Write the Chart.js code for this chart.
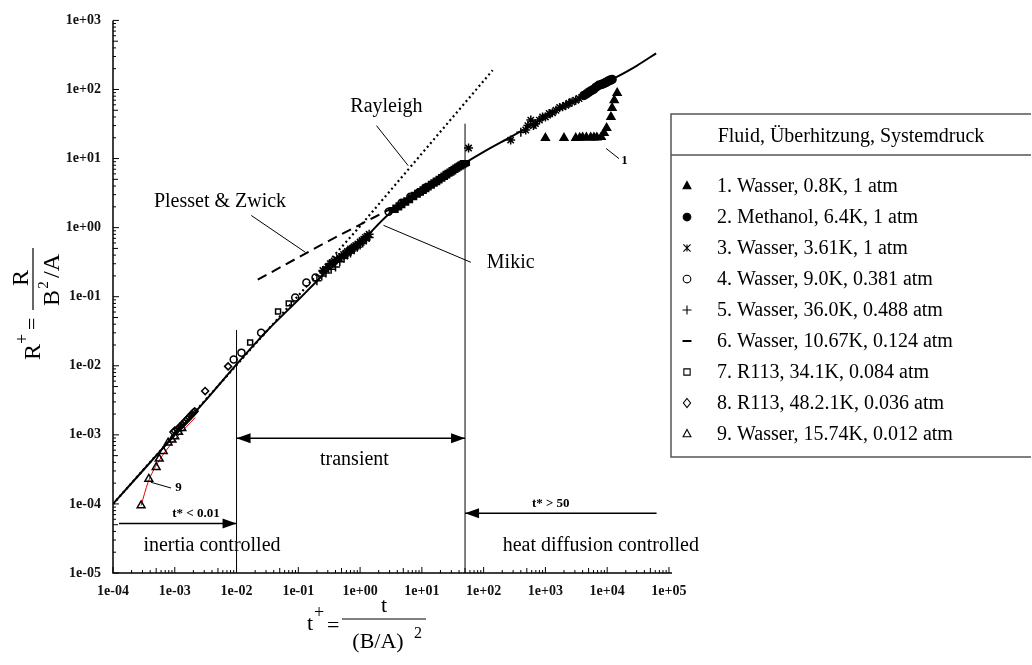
<!DOCTYPE html>
<html>
<head>
<meta charset="utf-8">
<script src="https://cdn.jsdelivr.net/npm/chart.js@4.4.1/dist/chart.umd.min.js"></script>
<style>html,body{margin:0;padding:0;background:#fff}</style>
</head>
<body>
<canvas id="myChart" width="1032" height="665"></canvas>
<script>
// axes
const xTicks = [1e-4, 1e-3, 1e-2, 1e-1, 1e0, 1e1, 1e2, 1e3, 1e4, 1e5];
const yTicks = [1e-5, 1e-4, 1e-3, 1e-2, 1e-1, 1e0, 1e1, 1e2, 1e3];

// curves
const mikicT = [1e-4, 3e-4, 1e-3, 3e-3, 1e-2, 3e-2, 0.1, 0.3, 1, 3, 10, 30, 100, 300, 1e3, 3e3, 1e4, 3e4, 6.2e4];
const mikicR = [1e-4, 3e-4, 1e-3, 3e-3, 1.05e-2, 3.1e-2, 9e-2, 0.24, 0.6, 1.6, 3.3, 6.5, 12.5, 21.5, 40, 69, 127, 220, 334];
const rayleighT = [1e-4, 1, 140];
const rayleighR = [1e-4, 1.05, 190];
const plessetT = [0.022, 0.3, 4];
const plessetR = [0.176, 0.63, 2.1];
const fit9T = [2.85e-4, 3.7e-4, 5.36e-4, 1.01e-3, 2.14e-3];
const fit9R = [9.5e-5, 2.06e-4, 4.0e-4, 8.6e-4, 1.78e-3];
const limitT = [0.01, 50];
const limitTop = [0.033, 32];

// measurements
const s1T = [1000, 2000, 3100, 3600, 4000, 4600, 5400, 6100, 6800, 8000, 8900, 9800, 11500, 12000, 13000, 14500];
const s1R = [19.8, 19.8, 19.8, 20, 20.2, 20.2, 20.2, 20.2, 20.2, 20.5, 23.5, 27.6, 40, 54, 70, 89];
const s2T = [4200, 4600, 5000, 5500, 6000, 6600, 7300, 8000, 8500, 9000, 9500, 10100, 10700, 11300, 12000];
const s2R = [82, 86, 91, 96, 100, 108, 115, 118, 120, 123, 126, 130, 134, 137, 140];
const s3T = [0.25, 0.28, 0.3, 0.33, 0.35, 0.38, 0.42, 0.46, 0.5, 0.54, 0.58, 0.62, 0.66, 0.7, 0.75, 0.8, 0.85, 0.92, 1.0, 1.07, 1.15, 1.22, 1.3, 1.4,
  57, 274, 480, 520, 580, 640, 690, 800, 900, 1000, 1150, 1300, 1480, 1700, 1900, 2140, 2400, 2700, 3100, 3500];
const s3R = [0.24, 0.25, 0.27, 0.3, 0.3, 0.33, 0.34, 0.37, 0.38, 0.41, 0.42, 0.45, 0.46, 0.49, 0.5, 0.53, 0.55, 0.58, 0.62, 0.65, 0.68, 0.72, 0.75, 0.8,
  14.2, 18.5, 25.9, 30, 36, 30, 32, 36, 40, 40, 45, 46, 50, 55, 56, 59, 63, 66, 70, 74];
const s4T = [0.009, 0.012, 0.025, 0.089, 0.135, 0.19, 2.9, 4.7, 6.5, 8.8, 11.5];
const s4R = [0.0123, 0.0155, 0.03, 0.097, 0.16, 0.19, 1.7, 2.3, 2.8, 3.2, 3.8];
const s5T = [0.2, 0.24, 0.28, 0.34, 0.4, 0.47, 0.55, 0.62, 0.7, 0.8, 0.9, 1.0, 1.1, 1.25, 1.4, 400, 650, 1200, 2500];
const s5R = [0.17, 0.2, 0.22, 0.25, 0.27, 0.32, 0.36, 0.4, 0.43, 0.48, 0.52, 0.56, 0.6, 0.66, 0.72, 24, 31, 44, 64];
const s6T = [3.5, 4, 4.5, 5.2, 6, 7, 8, 9, 10, 11, 12, 13.5, 15, 16.5, 18, 20, 22, 24, 26, 28, 30, 32.5, 35, 37.5, 40, 42.5, 45, 47.5, 50];
const s6R = [1.8, 1.95, 2.1, 2.3, 2.5, 2.75, 3.0, 3.2, 3.4, 3.6, 3.8, 4.05, 4.3, 4.55, 4.8, 5.1, 5.4, 5.7, 6.0, 6.25, 6.5, 6.8, 7.1, 7.4, 7.7, 7.95, 8.2, 8.4, 8.6];
const s7T = [0.0166, 0.047, 0.07];
const s7R = [0.0217, 0.061, 0.08];
const s8T = [0.00095, 0.001, 0.0011, 0.0012, 0.0013, 0.0014, 0.0015, 0.0016, 0.0017, 0.0018, 0.0019, 0.002, 0.0021, 0.0031, 0.0073];
const s8R = [0.0011, 0.00115, 0.0012, 0.0013, 0.0014, 0.0015, 0.0016, 0.0017, 0.0018, 0.0019, 0.002, 0.0021, 0.0022, 0.0043, 0.0098];
const s9T = [2.85e-4, 3.8e-4, 5.0e-4, 5.6e-4, 6.5e-4, 7.8e-4, 9e-4, 1.0e-3, 1.15e-3, 1.3e-3];
const s9R = [9.5e-5, 2.3e-4, 3.4e-4, 4.5e-4, 5.8e-4, 7.7e-4, 8.5e-4, 9.5e-4, 1.1e-3, 1.25e-3];

const legendTitle = 'Fluid, Überhitzung, Systemdruck';
const legendLabels = [
  '1. Wasser, 0.8K, 1 atm',
  '2. Methanol, 6.4K, 1 atm',
  '3. Wasser, 3.61K, 1 atm',
  '4. Wasser, 9.0K, 0.381 atm',
  '5. Wasser, 36.0K, 0.488 atm',
  '6. Wasser, 10.67K, 0.124 atm',
  '7. R113, 34.1K, 0.084 atm',
  '8. R113, 48.2.1K, 0.036 atm',
  '9. Wasser, 15.74K, 0.012 atm'
];
const legendStyles = ['triangle', 'circle', 'star', 'circle', 'cross', 'line', 'rect', 'rectRot', 'triangle'];
const legendFilled = [true, true, false, false, false, false, false, false, false];

// annotations in data coordinates
const noteText = ['Rayleigh', 'Plesset & Zwick', 'Mikic', 'transient', 'inertia controlled', 'heat diffusion controlled'];
const noteT = [2.67, 5.4e-3, 274, 0.81, 4.0e-3, 7900];
const noteR = [57, 2.4, 0.315, 4.4e-4, 2.5e-5, 2.5e-5];
const smallText = ['t* < 0.01', 't* > 50', '1', '9'];
const smallT = [2.2e-3, 1220, 1.9e4, 1.15e-3];
const smallR = [7.3e-5, 1.0e-4, 9.4, 1.74e-4];
const leaderFrom = [[1.84, 30], [0.0173, 1.5], [2.39, 1.08], [9.6e3, 14], [4.1e-4, 2.06e-4]];
const leaderTo = [[6.0, 7.9], [0.13, 0.44], [62, 0.315], [1.55e4, 10], [8.7e-4, 1.7e-4]];
// arrows: [t1, t2, R, head at start, head at end]
const arrows = [[0.01, 50, 8.9e-4, true, true], [1.25e-4, 0.01, 5.2e-5, false, true], [6.3e4, 50, 7.3e-5, false, true]];

const pts = (xs, ys) => xs.map((x, i) => ({x: x, y: ys[i]}));
const fmt = v => {
  const e = Math.round(Math.log10(v));
  return '1e' + (e < 0 ? '-' : '+') + String(Math.abs(e)).padStart(2, '0');
};
const SERIF = '"Liberation Serif", "Times New Roman", serif';

function curve(data, opts) {
  return Object.assign({data: data, showLine: true, pointRadius: 0, borderColor: '#000',
    borderWidth: 2, fill: false, cubicInterpolationMode: 'monotone', order: 5}, opts);
}
function marks(data, style, filled, opts) {
  return Object.assign({data: data, showLine: false, pointStyle: style, pointRadius: 3.5,
    borderColor: '#000', backgroundColor: filled ? '#000' : 'rgba(0,0,0,0)', pointBorderWidth: 1.5, order: 1}, opts);
}

function drawMarker(ctx, style, x, y, r, filled) {
  ctx.save();
  ctx.strokeStyle = '#000'; ctx.fillStyle = '#000'; ctx.lineWidth = 1.1;
  ctx.beginPath();
  if (style === 'triangle') {
    ctx.moveTo(x, y - r); ctx.lineTo(x + r * 0.87, y + r * 0.6); ctx.lineTo(x - r * 0.87, y + r * 0.6); ctx.closePath();
  } else if (style === 'circle') {
    ctx.arc(x, y, r * 0.85, 0, Math.PI * 2);
  } else if (style === 'rect') {
    ctx.rect(x - r * 0.7, y - r * 0.7, r * 1.4, r * 1.4);
  } else if (style === 'rectRot') {
    ctx.moveTo(x, y - r); ctx.lineTo(x + r * 0.8, y); ctx.lineTo(x, y + r); ctx.lineTo(x - r * 0.8, y); ctx.closePath();
  } else if (style === 'cross') {
    ctx.moveTo(x - r, y); ctx.lineTo(x + r, y); ctx.moveTo(x, y - r); ctx.lineTo(x, y + r);
  } else if (style === 'line') {
    ctx.lineWidth = 2; ctx.moveTo(x - r, y); ctx.lineTo(x + r, y);
  } else if (style === 'star') {
    ctx.moveTo(x - r * 0.8, y - r * 0.8); ctx.lineTo(x + r * 0.8, y + r * 0.8);
    ctx.moveTo(x + r * 0.8, y - r * 0.8); ctx.lineTo(x - r * 0.8, y + r * 0.8);
    ctx.moveTo(x, y - r * 0.8); ctx.lineTo(x, y + r * 0.8);
  }
  if (filled) ctx.fill();
  ctx.stroke();
  ctx.restore();
}

function arrowHead(ctx, x, y, dir) {
  ctx.beginPath();
  ctx.moveTo(x, y);
  ctx.lineTo(x - dir * 14, y - 5);
  ctx.lineTo(x - dir * 14, y + 5);
  ctx.closePath();
  ctx.fill();
}

const decorations = {
  id: 'decorations',
  afterDraw(chart) {
    const ctx = chart.ctx, xs = chart.scales.x, ys = chart.scales.y, a = chart.chartArea;
    const px = v => xs.getPixelForValue(v), py = v => ys.getPixelForValue(v);
    ctx.save();
    ctx.strokeStyle = '#000'; ctx.fillStyle = '#000';

    // axes with inward log ticks
    ctx.lineWidth = 1.5;
    ctx.beginPath();
    ctx.moveTo(a.left, a.top); ctx.lineTo(a.left, a.bottom); ctx.lineTo(a.right, a.bottom);
    ctx.stroke();
    ctx.lineWidth = 1;
    ctx.beginPath();
    for (let e = -4; e <= 5; e++) {
      for (let k = 1; k <= 9; k++) {
        const v = k * Math.pow(10, e);
        if (v < xs.min || v > xs.max) continue;
        const p = px(v), len = k === 1 ? 6 : (k === 5 ? 5 : 3);
        ctx.moveTo(p, a.bottom); ctx.lineTo(p, a.bottom - len);
      }
    }
    for (let e = -5; e <= 3; e++) {
      for (let k = 1; k <= 9; k++) {
        const v = k * Math.pow(10, e);
        if (v < ys.min || v > ys.max * 1.0001) continue;
        const p = py(v), len = k === 1 ? 6 : (k === 5 ? 5 : 3);
        ctx.moveTo(a.left, p); ctx.lineTo(a.left + len, p);
      }
    }
    ctx.stroke();

    // regime arrows
    ctx.lineWidth = 1.5;
    arrows.forEach(([t1, t2, r, hs, he]) => {
      const x1 = px(t1), x2 = px(t2), y = py(r);
      ctx.beginPath(); ctx.moveTo(x1, y); ctx.lineTo(x2, y); ctx.stroke();
      const dir = Math.sign(x2 - x1);
      if (he) arrowHead(ctx, x2, y, dir);
      if (hs) arrowHead(ctx, x1, y, -dir);
    });

    // leader lines
    ctx.lineWidth = 1;
    leaderFrom.forEach((f, i) => {
      const t = leaderTo[i];
      ctx.beginPath(); ctx.moveTo(px(f[0]), py(f[1])); ctx.lineTo(px(t[0]), py(t[1])); ctx.stroke();
    });

    // text labels
    ctx.textAlign = 'center'; ctx.textBaseline = 'middle';
    ctx.font = '20px ' + SERIF;
    noteText.forEach((s, i) => ctx.fillText(s, px(noteT[i]), py(noteR[i])));
    ctx.font = 'bold 13px ' + SERIF;
    smallText.forEach((s, i) => ctx.fillText(s, px(smallT[i]), py(smallR[i])));

    // x axis title: t+ = t / (B/A)^2
    ctx.textAlign = 'left'; ctx.textBaseline = 'alphabetic';
    ctx.font = '22px ' + SERIF;
    ctx.fillText('t', 307, 630);
    ctx.font = '18px ' + SERIF; ctx.fillText('+', 314, 618);
    ctx.font = '22px ' + SERIF; ctx.fillText('=', 327, 632);
    ctx.lineWidth = 1.2;
    ctx.beginPath(); ctx.moveTo(342, 619); ctx.lineTo(426, 619); ctx.stroke();
    ctx.textAlign = 'center';
    ctx.fillText('t', 384, 612);
    ctx.fillText('(B/A)', 378, 648);
    ctx.font = '16px ' + SERIF; ctx.fillText('2', 418, 638);

    // y axis title, rotated
    ctx.save();
    ctx.translate(40, 360);
    ctx.rotate(-Math.PI / 2);
    ctx.textAlign = 'left';
    ctx.font = '24px ' + SERIF; ctx.fillText('R', 0, 0);
    ctx.font = '18px ' + SERIF; ctx.fillText('+', 16, -12);
    ctx.font = '22px ' + SERIF; ctx.fillText('=', 30, -1);
    ctx.beginPath(); ctx.moveTo(50, -7); ctx.lineTo(112, -7); ctx.stroke();
    ctx.textAlign = 'center';
    ctx.font = '24px ' + SERIF; ctx.fillText('R', 82, -12);
    ctx.fillText('B', 62, 19);
    ctx.font = '15px ' + SERIF; ctx.fillText('2', 75, 8);
    ctx.font = '24px ' + SERIF; ctx.fillText('/A', 94, 19);
    ctx.restore();

    // legend box
    const L = 671, R = 1031, T = 114, B = 457, H = 155;
    ctx.strokeStyle = '#555'; ctx.lineWidth = 1.5;
    ctx.beginPath();
    ctx.moveTo(R, T); ctx.lineTo(L, T); ctx.lineTo(L, B); ctx.lineTo(R, B);
    ctx.moveTo(L, H); ctx.lineTo(R, H);
    ctx.stroke();
    ctx.fillStyle = '#000';
    ctx.font = '20px ' + SERIF; ctx.textBaseline = 'middle';
    ctx.textAlign = 'center';
    ctx.fillText(legendTitle, (L + R) / 2, 137);
    ctx.textAlign = 'left';
    legendLabels.forEach((s, i) => {
      const y = 186 + i * 31;
      drawMarker(ctx, legendStyles[i], 687, y, 4.5, legendFilled[i]);
      ctx.fillText(s, 717, y + 1);
    });
    ctx.restore();
  }
};

new Chart('myChart', {
  type: 'scatter',
  data: {
    datasets: [
      curve(pts(mikicT, mikicR), {label: 'Mikic'}),
      curve(pts(rayleighT, rayleighR), {label: 'Rayleigh', borderDash: [2, 3], borderWidth: 2.2, cubicInterpolationMode: 'default', tension: 0}),
      curve(pts(plessetT, plessetR), {label: 'Plesset & Zwick', borderDash: [10, 6]}),
      curve(pts(fit9T, fit9R), {label: 'fit 9', borderColor: '#e00000', borderWidth: 1}),
      curve([{x: limitT[0], y: 1e-5}, {x: limitT[0], y: limitTop[0]}], {borderWidth: 1, cubicInterpolationMode: 'default'}),
      curve([{x: limitT[1], y: 1e-5}, {x: limitT[1], y: limitTop[1]}], {borderWidth: 1, cubicInterpolationMode: 'default'}),
      marks(pts(s1T, s1R), 'triangle', true, {pointRadius: 4.5}),
      marks(pts(s2T, s2R), 'circle', true, {pointRadius: 4}),
      marks(pts(s3T, s3R), 'star', false, {pointRadius: 4.5}),
      marks(pts(s4T, s4R), 'circle', false),
      marks(pts(s5T, s5R), 'cross', false, {pointRadius: 4.5}),
      marks(pts(s6T, s6R), 'line', false, {pointRadius: 5, pointBorderWidth: 6}),
      marks(pts(s7T, s7R), 'rect', false),
      marks(pts(s8T, s8R), 'rectRot', false),
      marks(pts(s9T, s9R), 'triangle', false, {pointRadius: 4.5})
    ]
  },
  options: {
    responsive: false,
    animation: false,
    devicePixelRatio: 1,
    layout: {padding: {left: 0, top: 20, right: 360, bottom: 0}},
    plugins: {legend: {display: false}, tooltip: {enabled: false}},
    scales: {
      x: {
        type: 'logarithmic', min: 1e-4, max: 1.12e5,
        afterBuildTicks: s => { s.ticks = xTicks.map(v => ({value: v})); },
        afterFit: s => { s.height = 92; },
        grid: {display: false, drawTicks: false, tickLength: 0},
        border: {display: false},
        ticks: {callback: v => fmt(v), autoSkip: false, maxRotation: 0, padding: 10,
          color: '#111', font: {family: SERIF, size: 14, weight: 'bold'}}
      },
      y: {
        type: 'logarithmic', min: 1e-5, max: 1e3,
        afterBuildTicks: s => { s.ticks = yTicks.map(v => ({value: v})); },
        afterFit: s => { s.width = 113; },
        grid: {display: false, drawTicks: false, tickLength: 0},
        border: {display: false},
        ticks: {callback: v => fmt(v), autoSkip: false, padding: 12,
          color: '#111', font: {family: SERIF, size: 14, weight: 'bold'}}
      }
    }
  },
  plugins: [decorations]
});
</script>
</body>
</html>
